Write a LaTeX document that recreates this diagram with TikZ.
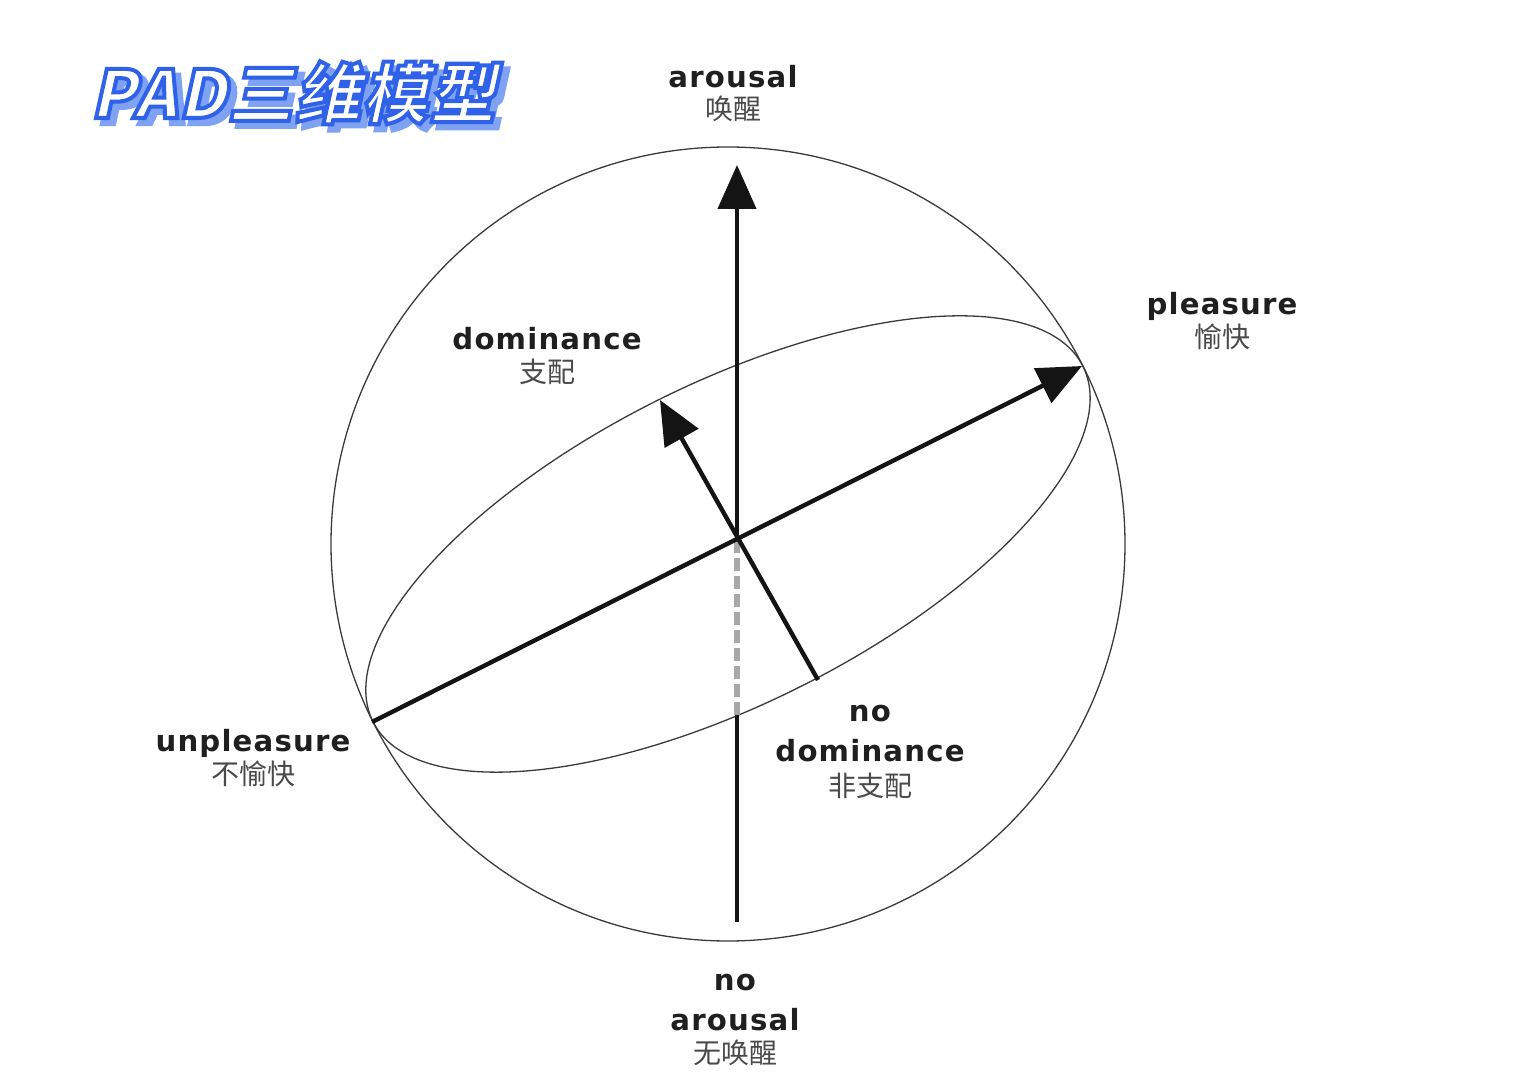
\documentclass[tikz,border=0pt]{standalone}
\usepackage{fontspec}
\usetikzlibrary{arrows.meta}
\setmainfont{DejaVu Sans}
\newfontfamily\labfont[LetterSpace=4]{DejaVu Sans}
\newfontfamily\cjk{Noto Sans CJK SC}
\newfontfamily\titlefont[FakeSlant=0.22,LetterSpace=2]{Noto Sans CJK SC}
\definecolor{tblue}{HTML}{2F62E8}
\definecolor{tshadow}{HTML}{7FA2F2}
\definecolor{cngray}{HTML}{4A4A4A}
\definecolor{linegray}{HTML}{3A3A3A}
\definecolor{dashgray}{HTML}{A8A8A8}
\begin{document}
\begin{tikzpicture}[x=0.5pt,y=-0.5pt,
  lab/.style={font=\labfont\bfseries\fontsize{14.6}{16}\selectfont, text=black!88, inner sep=0pt, anchor=base},
  cn/.style={font=\cjk\fontsize{14}{16}\selectfont, text=cngray, inner sep=0pt, anchor=base},
  axis/.style={line width=2.2pt, draw=black!92, line cap=butt},
  axisarrow/.style={axis, -{Triangle[length=22pt,width=19pt]}},
  thin/.style={line width=0.65pt, draw=linegray},
  ttl/.style={font=\titlefont\bfseries\fontsize{33}{36}\selectfont, inner sep=0pt, anchor=base west}
]
\useasboundingbox (0,0) rectangle (1517,1080);

% key points
\coordinate (C) at (728,544);
\coordinate (O) at (737,540);
\coordinate (Atop) at (737,165);
\coordinate (Abot) at (737,922);
\coordinate (Afront) at (737,715);
\coordinate (P) at (1082,366);
\coordinate (U) at (372,722);
\coordinate (D) at (660,400);
\coordinate (ND) at (818,680);

% sphere and equator
\draw[thin] (C) circle (397);
\draw[thin, rotate around={26.6:(C)}] (C) ellipse (397 and 160);

% axes
\draw[line width=3pt, draw=dashgray, dash pattern=on 6.5pt off 2.5pt] (O) -- (Afront);
\draw[axis] (Abot) -- (Afront);
\draw[axisarrow] (O) -- (Atop);
\draw[axisarrow] (U) -- (P);
\draw[axisarrow] (ND) -- (D);

% title (shadow, then outlined white text)
\node[ttl, text=tshadow] (tsh) at (96,124) {\special{pdf:literal direct 2 Tr 2.2 w 0.498 0.635 0.949 RG}PAD三维模型};
\node[ttl, text=white] (title) at (90,118) {\special{pdf:literal direct 2 Tr 2.0 w 0.184 0.384 0.91 RG}PAD三维模型};

% labels
\node[lab] (aro) at (733,88) {arousal};
\node[cn] (aroc) at (733,120) {唤醒};
\node[lab] (dom) at (547,350) {dominance};
\node[cn] (domc) at (547,383) {支配};
\node[lab] (ple) at (1222,315) {pleasure};
\node[cn] (plec) at (1222,348) {愉快};
\node[lab] (unp) at (253,751) {unpleasure};
\node[cn] (unpc) at (253,784) {不愉快};
\node[lab] (nd1) at (870,722) {no};
\node[lab] (nd2) at (870,762) {dominance};
\node[cn] (ndc) at (870,797) {非支配};
\node[lab] (na1) at (735,990) {no};
\node[lab] (na2) at (735,1030) {arousal};
\node[cn] (nac) at (735,1063) {无唤醒};
\end{tikzpicture}
\end{document}
